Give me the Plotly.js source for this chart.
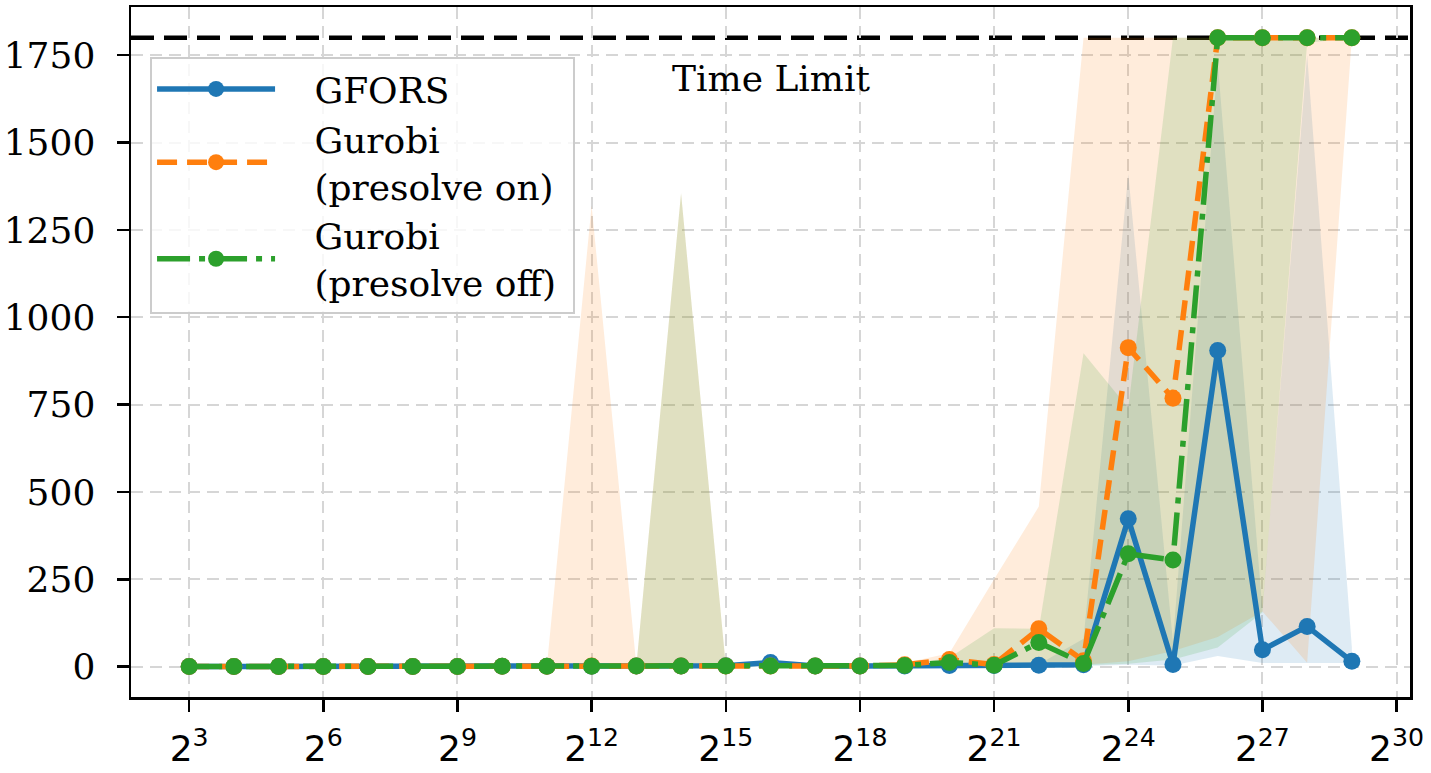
<!DOCTYPE html>
<html>
<head>
<meta charset="utf-8">
<script src="https://cdn.plot.ly/plotly-3.0.1.min.js"></script>
<style>
html,body{margin:0;padding:0;background:#ffffff;}
#chart{width:1431px;height:773px;}
</style>
</head>
<body>
<div id="chart"></div>
<script>
// Problem size exponents (x = 2^e)
const exponents = [3,4,5,6,7,8,9,10,11,12,13,14,15,16,17,18,19,20,21,22,23,24,25,26,27,28,29];
const tickExponents = [3,6,9,12,15,18,21,24,27,30];
const yTicks = [0,250,500,750,1000,1250,1500,1750];
const timeLimit = 1800;

// GFORS
const gforsMid  = [0.3,0.3,0.4,0.4,0.5,0.5,0.6,0.8,1,1.2,1.5,2,2.5,12,2,2,2,3,3,4,5,423,6,905,48,115,15];
const gforsLow  = [0.1,0.1,0.1,0.1,0.1,0.1,0.2,0.2,0.3,0.3,0.4,0.5,0.5,1,0.5,0.5,0.5,1,1,1,2,5,3,30,10,10,10];
const gforsHigh = [1,1,1,1,1,1,1,1.5,2,2,3,3,4,18,4,4,5,6,6,7,80,1410,70,1730,162,1750,55];

// Gurobi (presolve on)
const onMid  = [0.3,0.3,0.4,0.4,0.5,0.5,0.6,0.8,1,1.5,2,1.5,1.5,1.5,2,2,5,20,6,108,17,913,768,1800,1800,1800,1800];
const onLow  = [0.1,0.1,0.1,0.1,0.1,0.1,0.2,0.2,0.3,0.3,0.4,0.5,0.5,0.5,0.5,0.5,1,3,1,3,5,15,45,85,158,11,1800];
const onHigh = [1,1,1,1,1,1,1,1.5,2,1320,3,1355,3,3,4,5,10,38,250,458,1800,1800,1800,1800,1800,1800,1800];

// Gurobi (presolve off)
const offMid  = [0.3,0.3,0.4,0.4,0.5,0.5,0.6,0.8,1,1.2,1.5,2,1.5,1.5,2,2,3,12,4,69,9,323,305,1800,1800,1800,1800];
const offLow  = [0.1,0.1,0.1,0.1,0.1,0.1,0.2,0.2,0.3,0.3,0.4,0.5,0.5,0.5,0.5,0.5,1,2,1,3,4,8,20,55,155,1785,1800];
const offHigh = [1,1,1,1,1,1,1,1.5,2,2,2,1355,2,3,3,3,5,25,110,108,897,740,1800,1800,1800,1800,1800];

const NB = '\u00a0\u00a0\u00a0';
const seriesNames = [NB + 'GFORS', NB + 'Gurobi<br>' + NB + '(presolve on)', NB + 'Gurobi<br>' + NB + '(presolve off)\u00a0'];
const colors = ['#1f77b4', '#ff7f0e', '#2ca02c'];
const fills = ['rgba(31,119,180,0.15)', 'rgba(255,127,14,0.15)', 'rgba(44,160,44,0.15)'];
const dashes = ['solid', '20px,10px', '33px,9px,6px,9px'];

const xs = exponents.map(e => Math.pow(2, e));
const LOG2 = Math.log10(2);

const bands = [[gforsLow, gforsHigh], [onLow, onHigh], [offLow, offHigh]];
const mids = [gforsMid, onMid, offMid];

const traces = [];
bands.forEach((b, i) => {
  traces.push({x: xs, y: b[0], type: 'scatter', mode: 'lines',
    line: {width: 0, color: 'rgba(0,0,0,0)'}, showlegend: false, hoverinfo: 'skip'});
  traces.push({x: xs, y: b[1], type: 'scatter', mode: 'lines', fill: 'tonexty',
    fillcolor: fills[i], line: {width: 0, color: 'rgba(0,0,0,0)'}, showlegend: false, hoverinfo: 'skip'});
});
mids.forEach((m, i) => {
  traces.push({x: xs, y: m, type: 'scatter', mode: 'lines+markers', name: seriesNames[i],
    line: {color: colors[i], width: 5.5, dash: dashes[i]},
    marker: {color: colors[i], size: 17, symbol: 'circle'}});
});

const serif = 'DejaVu Serif, serif';
const layout = {
  width: 1431, height: 773,
  margin: {l: 131, r: 21, t: 7, b: 76, pad: 0},
  paper_bgcolor: '#ffffff', plot_bgcolor: '#ffffff',
  font: {family: serif, size: 36, color: '#000000'},
  showlegend: true,
  legend: {
    x: 0.0149, y: 0.9275, xanchor: 'left', yanchor: 'top',
    bgcolor: 'rgba(255,255,255,0.8)', bordercolor: '#cccccc', borderwidth: 2,
    font: {family: serif, size: 36, color: '#000000'},
    itemwidth: 118, valign: 'middle', tracegroupgap: 12, traceorder: 'normal'
  },
  xaxis: {
    type: 'log',
    range: [1.7 * LOG2, 30.3 * LOG2],
    tickmode: 'array',
    tickvals: tickExponents.map(e => Math.pow(2, e)),
    ticktext: tickExponents.map(e => '2<sup>' + e + '</sup>'),
    tickfont: {family: 'DejaVu Sans, sans-serif', size: 36, color: '#000000'},
    ticks: 'outside', ticklen: 12, tickwidth: 2.5, tickcolor: '#000000',
    ticklabelstandoff: 6,
    showline: true, mirror: true, linecolor: '#000000', linewidth: 2.5,
    showgrid: true, gridcolor: '#d6d6d6', gridwidth: 2, griddash: '12px,7px',
    zeroline: false
  },
  yaxis: {
    range: [-87, 1888],
    tickmode: 'array',
    tickvals: yTicks,
    ticktext: yTicks.map(String),
    tickfont: {family: serif, size: 36, color: '#000000'},
    ticks: 'outside', ticklen: 12, tickwidth: 2.5, tickcolor: '#000000',
    ticklabelstandoff: 14,
    showline: true, mirror: true, linecolor: '#000000', linewidth: 2.5,
    showgrid: true, gridcolor: '#d6d6d6', gridwidth: 2, griddash: '12px,7px',
    zeroline: false
  },
  shapes: [{
    type: 'line', xref: 'paper', x0: 0, x1: 1, yref: 'y', y0: timeLimit, y1: timeLimit,
    line: {color: '#000000', width: 4.5, dash: '23px,10px'}, layer: 'below'
  }],
  annotations: [{
    xref: 'paper', yref: 'paper', x: 0.5, y: 0.897, xanchor: 'center', yanchor: 'middle',
    text: 'Time Limit', showarrow: false,
    font: {family: serif, size: 36, color: '#000000'}
  }]
};

Plotly.newPlot('chart', traces, layout, {displayModeBar: false, staticPlot: true});
</script>
</body>
</html>
